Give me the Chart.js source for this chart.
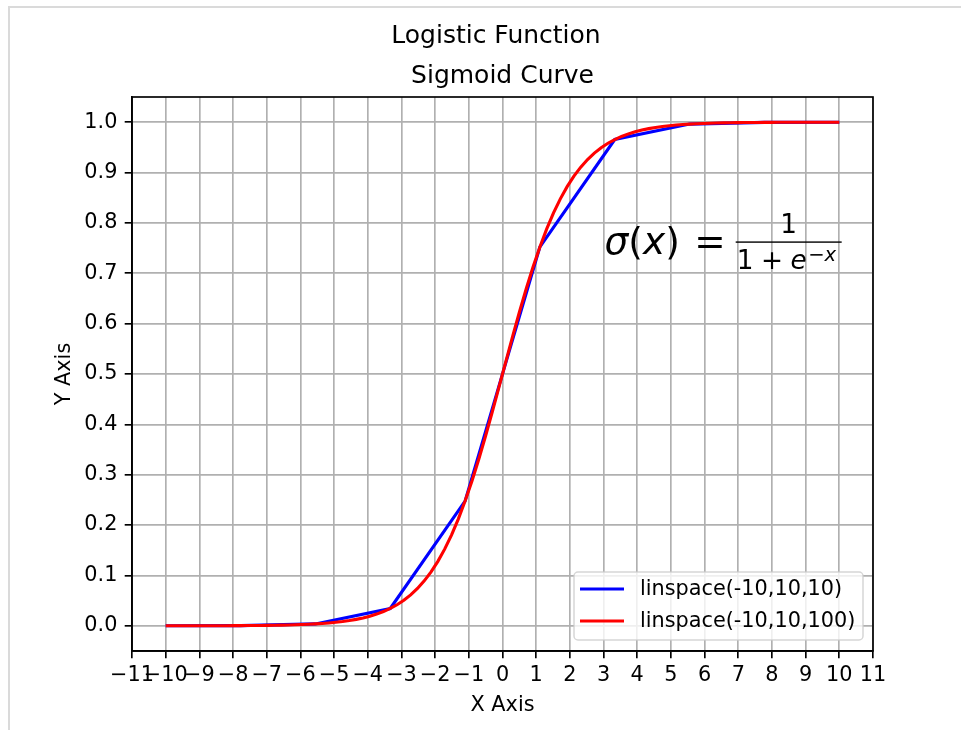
<!DOCTYPE html>
<html>
<head>
<meta charset="utf-8">
<title>Logistic Function</title>
<script src="https://cdn.jsdelivr.net/npm/chart.js@4.4.1/dist/chart.umd.min.js"></script>
<style>
html, body { margin: 0; padding: 0; background: #fff; }
canvas { display: block; }
</style>
</head>
<body>
<canvas id="sigmoidChart" width="961" height="730"></canvas>
<script>
// linspace(-10,10,10)
const coarseX = [-10, -7.778, -5.556, -3.333, -1.111, 1.111, 3.333, 5.556, 7.778, 10]
const coarseY = [0.00005, 0.0004, 0.0038, 0.0344, 0.2477, 0.7523, 0.9656, 0.9962, 0.9996, 1.0]

// linspace(-10,10,100)
const fineX = [
    -10.000, -9.798, -9.596, -9.394, -9.192, -8.990, -8.788, -8.586, -8.384, -8.182,
    -7.980, -7.778, -7.576, -7.374, -7.172, -6.970, -6.768, -6.566, -6.364, -6.162,
    -5.960, -5.758, -5.556, -5.354, -5.152, -4.949, -4.747, -4.545, -4.343, -4.141,
    -3.939, -3.737, -3.535, -3.333, -3.131, -2.929, -2.727, -2.525, -2.323, -2.121,
    -1.919, -1.717, -1.515, -1.313, -1.111, -0.909, -0.707, -0.505, -0.303, -0.101,
    0.101, 0.303, 0.505, 0.707, 0.909, 1.111, 1.313, 1.515, 1.717, 1.919,
    2.121, 2.323, 2.525, 2.727, 2.929, 3.131, 3.333, 3.535, 3.737, 3.939,
    4.141, 4.343, 4.545, 4.747, 4.949, 5.152, 5.354, 5.556, 5.758, 5.960,
    6.162, 6.364, 6.566, 6.768, 6.970, 7.172, 7.374, 7.576, 7.778, 7.980,
    8.182, 8.384, 8.586, 8.788, 8.990, 9.192, 9.394, 9.596, 9.798, 10.000
]
const fineY = [
    0.00005, 0.00006, 0.00007, 0.00008, 0.00010, 0.00012, 0.00015, 0.00019, 0.00023, 0.00028,
    0.00034, 0.00042, 0.00051, 0.00063, 0.00077, 0.00094, 0.00115, 0.00141, 0.00172, 0.00210,
    0.00257, 0.00315, 0.00385, 0.00471, 0.00575, 0.00704, 0.00861, 0.01051, 0.01283, 0.01566,
    0.01909, 0.02327, 0.02833, 0.03445, 0.04184, 0.05074, 0.06140, 0.07413, 0.08924, 0.10708,
    0.12797, 0.15226, 0.18018, 0.21199, 0.24767, 0.28720, 0.33026, 0.37637, 0.42482, 0.47477,
    0.52523, 0.57518, 0.62363, 0.66974, 0.71280, 0.75233, 0.78801, 0.81982, 0.84774, 0.87203,
    0.89292, 0.91076, 0.92587, 0.93860, 0.94926, 0.95816, 0.96555, 0.97167, 0.97673, 0.98091,
    0.98434, 0.98717, 0.98949, 0.99139, 0.99296, 0.99425, 0.99529, 0.99615, 0.99685, 0.99743,
    0.99790, 0.99828, 0.99859, 0.99885, 0.99906, 0.99923, 0.99937, 0.99949, 0.99958, 0.99966,
    0.99972, 0.99977, 0.99981, 0.99985, 0.99988, 0.99990, 0.99992, 0.99993, 0.99994, 0.99995
]

const seriesLabels = ["linspace(-10,10,10)", "linspace(-10,10,100)"]
const xTicks = [-11, -10, -9, -8, -7, -6, -5, -4, -3, -2, -1, 0, 1, 2, 3, 4, 5, 6, 7, 8, 9, 10, 11]
const yTicks = [0.0, 0.1, 0.2, 0.3, 0.4, 0.5, 0.6, 0.7, 0.8, 0.9, 1.0]

const FONT = "'DejaVu Sans', sans-serif"
const TICK_PX = 20.8

function toPoints(xs, ys) {
    return xs.map((v, i) => ({ x: v, y: ys[i] }))
}

// titles, spines, formula and legend drawn straight on the canvas
const decor = {
    id: 'decor',
    beforeDraw(chart) {
        const { ctx } = chart
        ctx.save()
        ctx.fillStyle = '#fff'
        ctx.fillRect(0, 0, chart.width, chart.height)
        ctx.strokeStyle = '#dadada'
        ctx.lineWidth = 2
        ctx.beginPath()
        ctx.moveTo(9, chart.height)
        ctx.lineTo(9, 7)
        ctx.lineTo(chart.width, 7)
        ctx.stroke()
        ctx.restore()
    },
    afterDraw(chart) {
        const { ctx, chartArea: { left, right, top, bottom }, scales: { x, y } } = chart
        const cx = (left + right) / 2
        ctx.save()

        // spines
        ctx.strokeStyle = '#000'
        ctx.lineWidth = 1.67
        ctx.strokeRect(left, top, right - left, bottom - top)

        // titles
        ctx.fillStyle = '#000'
        ctx.textAlign = 'center'
        ctx.textBaseline = 'alphabetic'
        ctx.font = "25px " + FONT
        ctx.fillText("Logistic Function", 496, 43)
        ctx.fillText("Sigmoid Curve", cx, 83)

        // axis labels
        ctx.font = TICK_PX + "px " + FONT
        ctx.fillText("X Axis", cx, 711)
        ctx.save()
        ctx.translate(70, (top + bottom) / 2)
        ctx.rotate(-Math.PI / 2)
        ctx.fillText("Y Axis", 0, 0)
        ctx.restore()

        // formula  sigma(x) = 1 / (1 + e^-x)
        ctx.textAlign = 'left'
        const big = 37.5, mid = 26.3, small = 19.6
        const fx = x.getPixelForValue(3) + 1
        const by = y.getPixelForValue(0.75) + 6
        const run = (parts, px, py) => {
            parts.forEach(p => {
                ctx.font = (p.it ? "italic " : "") + p.size + "px " + FONT
                px += p.gap || 0
                ctx.fillText(p.t, px, py)
                px += ctx.measureText(p.t).width
            })
            return px
        }
        let ex = run([
            { t: "\u03c3", it: true, size: big },
            { t: "(", size: big },
            { t: "x", it: true, size: big },
            { t: ")", size: big }
        ], fx, by)
        ex = run([{ t: "=", size: big, gap: 14.5 }], ex, by)
        const barL = ex + 10, barR = barL + 106
        ctx.fillRect(barL, by - 12.7, barR - barL, 1.4)
        ctx.font = mid + "px " + FONT
        ctx.textAlign = 'center'
        ctx.fillText("1", (barL + barR) / 2, by - 21)
        ctx.textAlign = 'left'
        const de = run([
            { t: "1", size: mid },
            { t: "+", size: mid, gap: 7.5 },
            { t: "e", it: true, size: mid, gap: 7.5 }
        ], barL + 1, by + 15)
        run([
            { t: "\u2212", size: small, gap: 1.5 },
            { t: "x", it: true, size: small }
        ], de, by + 7)

        // legend
        const lx = 574, ly = 572, lw = 289, lh = 68
        ctx.beginPath()
        ctx.roundRect(lx, ly, lw, lh, 4)
        ctx.fillStyle = 'rgba(255,255,255,0.8)'
        ctx.fill()
        ctx.strokeStyle = 'rgba(204,204,204,0.8)'
        ctx.lineWidth = 1.5
        ctx.stroke()
        ctx.font = TICK_PX + "px " + FONT
        ctx.textBaseline = 'middle'
        const rows = [589, 621]
        chart.data.datasets.forEach((ds, i) => {
            ctx.strokeStyle = ds.borderColor
            ctx.lineWidth = 3.1
            ctx.beginPath()
            ctx.moveTo(580, rows[i])
            ctx.lineTo(624, rows[i])
            ctx.stroke()
            ctx.fillStyle = '#000'
            ctx.fillText(ds.label, 640, rows[i] + 1)
        })
        ctx.restore()
    }
}

const config = {
    type: "line",
    data: {
        datasets: [
            {
                label: seriesLabels[0],
                data: toPoints(coarseX, coarseY),
                borderColor: "#0000ff",
                order: 2
            },
            {
                label: seriesLabels[1],
                data: toPoints(fineX, fineY),
                borderColor: "#ff0000",
                order: 1
            }
        ]
    },
    options: {
        responsive: false,
        animation: false,
        devicePixelRatio: 1,
        layout: {
            padding: { top: 97, right: 88, bottom: 0, left: 0 }
        },
        elements: {
            line: { borderWidth: 3.1, tension: 0, fill: false },
            point: { radius: 0, hoverRadius: 0 }
        },
        plugins: {
            legend: { display: false },
            title: { display: false },
            tooltip: { enabled: false }
        },
        scales: {
            x: {
                type: "linear",
                position: "bottom",
                min: -11,
                max: 11,
                afterBuildTicks(scale) {
                    scale.ticks = xTicks.map(v => ({ value: v }))
                },
                afterFit(scale) {
                    scale.height = 79
                    scale.paddingLeft = 0
                    scale.paddingRight = 0
                },
                grid: {
                    color: "#b0b0b0",
                    lineWidth: 1.67,
                    tickColor: "#000",
                    tickLength: 7.3,
                    tickWidth: 1.67
                },
                border: { display: true, color: "#000", width: 1.67 },
                ticks: {
                    autoSkip: false,
                    maxRotation: 0,
                    minRotation: 0,
                    padding: 7.3,
                    color: "#000",
                    font: { family: FONT, size: TICK_PX, lineHeight: 1 },
                    callback: v => (v < 0 ? "\u2212" + Math.abs(v) : String(v))
                }
            },
            y: {
                type: "linear",
                position: "left",
                min: -0.05,
                max: 1.05,
                afterBuildTicks(scale) {
                    scale.ticks = yTicks.map(v => ({ value: v }))
                },
                afterFit(scale) {
                    scale.width = 132
                    scale.paddingTop = 0
                    scale.paddingBottom = 0
                },
                grid: {
                    color: "#b0b0b0",
                    lineWidth: 1.67,
                    tickColor: "#000",
                    tickLength: 7.3,
                    tickWidth: 1.67
                },
                border: { display: true, color: "#000", width: 1.67 },
                ticks: {
                    autoSkip: false,
                    padding: 7.3,
                    color: "#000",
                    font: { family: FONT, size: TICK_PX },
                    callback: v => v.toFixed(1)
                }
            }
        }
    },
    plugins: [decor]
}

const sigmoidChart = new Chart(document.getElementById("sigmoidChart"), config)
</script>
</body>
</html>
